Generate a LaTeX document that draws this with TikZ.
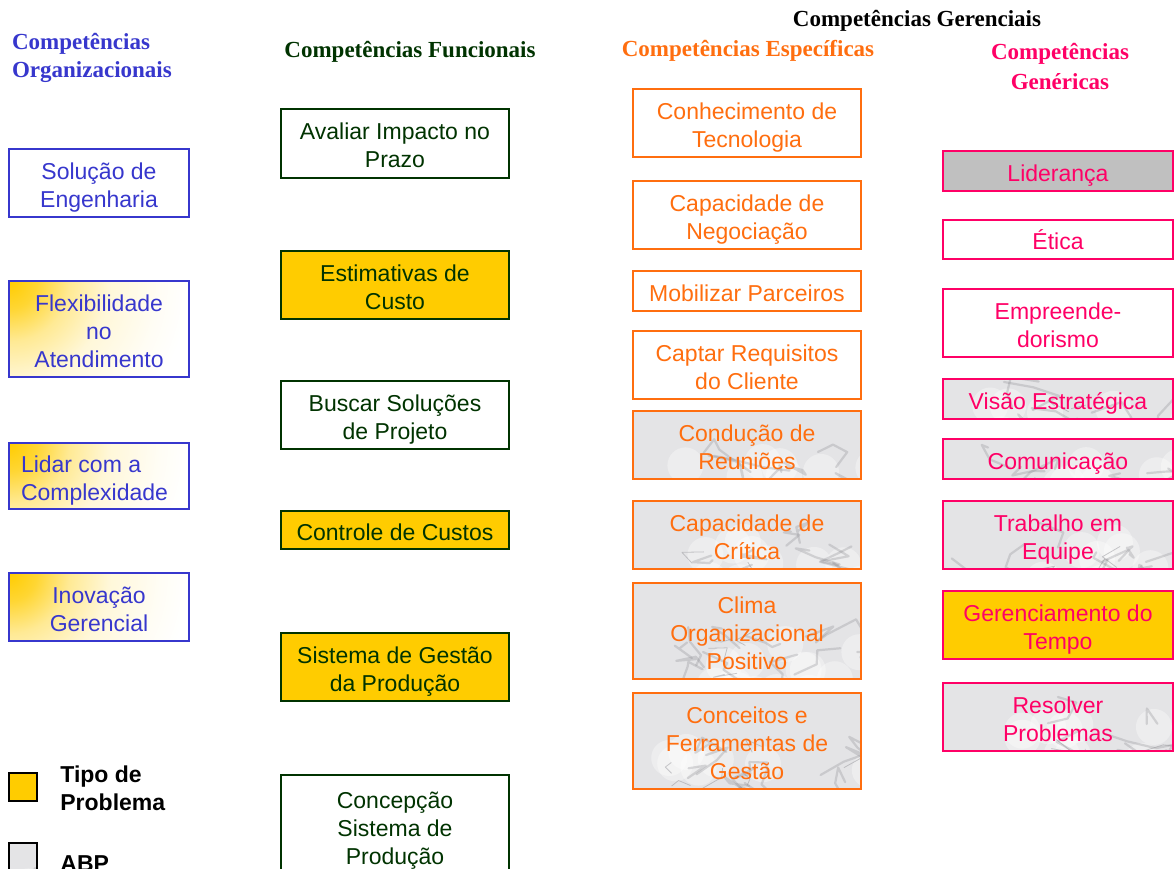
\documentclass[tikz,border=0pt]{standalone}
\usepackage{fontspec}
\setmainfont{Liberation Serif}
\setsansfont{Liberation Sans}
\definecolor{orgblue}{RGB}{55,55,205}
\definecolor{funcgreen}{RGB}{0,51,0}
\definecolor{especorange}{RGB}{255,110,15}
\definecolor{genpink}{RGB}{255,0,102}
\definecolor{gold}{RGB}{255,204,0}
\definecolor{lidergray}{RGB}{192,192,192}
\definecolor{marblebg}{RGB}{228,228,230}
\definecolor{marblevein}{RGB}{140,140,145}

% text of a box, lowered a little as in the slide
\newcommand{\boxlines}[2][c]{\raisebox{-2.4pt}[\height][\depth]{%
  \begin{tabular}{@{}#1@{}}#2\end{tabular}}}

\pgfdeclareradialshading{glowshade}{\pgfpoint{0bp}{0bp}}{%
  color(0bp)=(gold); color(14bp)=(gold!80); color(30bp)=(gold!42);
  color(50bp)=(gold!15); color(75bp)=(gold!4); color(90bp)=(white)}

\tikzset{
  box/.style={draw, line width=1pt, inner sep=0pt,
    font=\sffamily\fontsize{11.5}{14}\selectfont},
  orgbox/.style={box, draw=orgblue, text=orgblue, minimum width=90pt},
  funcbox/.style={box, draw=funcgreen, text=funcgreen, minimum width=114pt},
  especbox/.style={box, draw=especorange, text=especorange, minimum width=114pt},
  genbox/.style={box, draw=genpink, text=genpink, minimum width=115pt},
  problem/.style={fill=gold},
  glow/.style={fill=white, path picture={
      \pgftext[at=\pgfpointanchor{path picture bounding box}{north west}]
        {\pgfuseshading{glowshade}}}},
  marble/.style={fill=marblebg, path picture={
      \begin{scope}[shift={(path picture bounding box.north west)}]
        \foreach \k in {1,...,22}{
          \fill[white, opacity=0.35] ({rnd*240},{rnd*100}) circle (9pt);
        }
        \foreach \k in {1,...,30}{
          \draw[marblevein, line width=1.1pt, line join=round, line cap=round, opacity=0.3]
            ({rnd*240},{rnd*100}) -- ++({rand*30},{rand*16})
            -- ++({rand*30},{rand*16}) -- ++({rand*30},{rand*16});
        }
        \foreach \k in {1,...,14}{
          \draw[marblevein, line width=0.4pt, line join=round, opacity=0.45]
            ({rnd*240},{rnd*100}) -- ++({rand*25},{rand*14})
            -- ++({rand*25},{rand*14});
        }
      \end{scope}}},
  head/.style={font=\bfseries\fontsize{11.5}{14}\selectfont, align=center},
  legtext/.style={font=\sffamily\bfseries\fontsize{11.5}{14}\selectfont,
    align=left, anchor=west, inner sep=0pt}
}

\begin{document}
\begin{tikzpicture}[x=0.5pt, y=-0.5pt]
\pgfmathsetseed{7}
\useasboundingbox (0,0) rectangle (1175,869);
\fill[white] (0,0) rectangle (1175,869);
\clip (0,0) rectangle (1175,869);

% headers
\node[head, text=orgblue, align=left, anchor=west] (horg) at (5,58)
  {Competências\\Organizacionais};
\node[head, text=funcgreen] (hfunc) at (410,52) {Competências Funcionais};
\node[head, text=especorange] (hespec) at (748,51) {Competências Específicas};
\node[head] (hger) at (917,21) {Competências Gerenciais};
\node[head, text=genpink, font=\bfseries\fontsize{11.5}{15}\selectfont] (hgen) at (1060,66)
  {Competências\\Genéricas};

% organizacionais
\node[orgbox, minimum height=34pt] (sol) at (99,183) {\boxlines{Solução de\\Engenharia}};
\node[orgbox, glow, minimum height=48pt] (flex) at (99,329) {\boxlines{Flexibilidade\\no\\Atendimento}};
\node[orgbox, glow, minimum height=33pt] (lidar) at (99,476)
  {\boxlines[p{78pt}]{Lidar com a\\Complexidade}};
\node[orgbox, glow, minimum height=34pt] (inov) at (99,607) {\boxlines{Inovação\\Gerencial}};

% funcionais
\node[funcbox, minimum height=34.5pt] (aval) at (395,143) {\boxlines{Avaliar Impacto no\\Prazo}};
\node[funcbox, problem, minimum height=34pt] (estim) at (395,285) {\boxlines{Estimativas de\\Custo}};
\node[funcbox, minimum height=34pt] (busc) at (395,415) {\boxlines{Buscar Soluções\\de Projeto}};
\node[funcbox, problem, minimum height=19pt] (ctrl) at (395,530) {\boxlines{Controle de Custos}};
\node[funcbox, problem, minimum height=34pt] (sgp) at (395,667) {\boxlines{Sistema de Gestão\\da Produção}};
\node[funcbox, minimum height=51pt] (conc) at (395,826) {\boxlines{Concepção\\Sistema de\\Produção}};

% especificas
\node[especbox, minimum height=34pt] (tecn) at (747,123) {\boxlines{Conhecimento de\\Tecnologia}};
\node[especbox, minimum height=34pt] (negoc) at (747,215) {\boxlines{Capacidade de\\Negociação}};
\node[especbox, minimum height=20pt] (mobil) at (747,291) {\boxlines{Mobilizar Parceiros}};
\node[especbox, minimum height=34pt] (capt) at (747,365) {\boxlines{Captar Requisitos\\do Cliente}};
\node[especbox, marble, minimum height=34pt] (cond) at (747,445) {\boxlines{Condução de\\Reuniões}};
\node[especbox, marble, minimum height=34pt] (crit) at (747,535) {\boxlines{Capacidade de\\Crítica}};
\node[especbox, marble, minimum height=48pt] (clima) at (747,631) {\boxlines{Clima\\Organizacional\\Positivo}};
\node[especbox, marble, minimum height=48pt] (ferr) at (747,741) {\boxlines{Conceitos e\\Ferramentas de\\Gestão}};

% genericas
\node[genbox, fill=lidergray, minimum height=20pt] (lider) at (1058,171) {\raisebox{1pt}{\boxlines{Liderança}}};
\node[genbox, minimum height=19.5pt] (etica) at (1058,239) {\boxlines{Ética}};
\node[genbox, minimum height=34pt] (empr) at (1058,323) {\boxlines{Empreende-\\dorismo}};
\node[genbox, marble, minimum height=20pt] (visao) at (1058,399) {\boxlines{Visão Estratégica}};
\node[genbox, marble, minimum height=20pt] (comun) at (1058,459) {\boxlines{Comunicação}};
\node[genbox, marble, minimum height=34pt] (equipe) at (1058,535) {\boxlines{Trabalho em\\Equipe}};
\node[genbox, problem, minimum height=34pt] (tempo) at (1058,625) {\boxlines{Gerenciamento do\\Tempo}};
\node[genbox, marble, minimum height=34pt] (resolv) at (1058,717) {\boxlines{Resolver\\Problemas}};

% legenda
\node[draw, line width=1pt, problem, minimum size=14pt, inner sep=0pt] (legtipo) at (23,787) {};
\node[legtext] (txttipo) at (60,788) {Tipo de\\Problema};
\node[draw, line width=1pt, marble, minimum size=14pt, inner sep=0pt] (legabp) at (23,857) {};
\node[legtext] (txtabp) at (60,864) {ABP};
\end{tikzpicture}
\end{document}
